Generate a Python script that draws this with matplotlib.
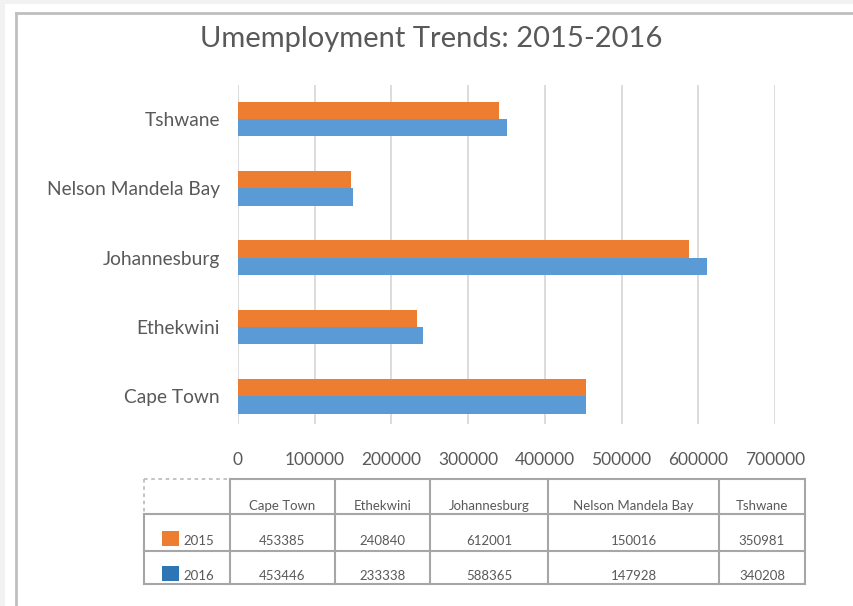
import matplotlib
matplotlib.use('Agg')

import matplotlib.pyplot as plt
from matplotlib.patches import Rectangle
from matplotlib.lines import Line2D

cities = ['Cape Town', 'Ethekwini', 'Johannesburg', 'Nelson Mandela Bay', 'Tshwane']
years = ['2015', '2016']
vals_2015 = [453385, 240840, 612001, 150016, 350981]
vals_2016 = [453446, 233338, 588365, 147928, 340208]
x_ticks = [0, 100000, 200000, 300000, 400000, 500000, 600000, 700000]

ORANGE = '#ED7D31'
BLUE = '#5B9BD5'
KEY_BLUE = '#2E75B6'
TEXT = '#595959'
W, H = 854, 606

plt.rcParams['font.family'] = ['Lato', 'DejaVu Sans']

fig = plt.figure(figsize=(W / 100, H / 100), dpi=100, facecolor='white')


def fx(px):
    return px / W


def fy(py):
    return 1 - py / H


# outer background strips and chart frame
fig.patches.append(Rectangle((0, fy(4)), 1, 4 / H, transform=fig.transFigure,
                             facecolor='#f2f2f2', edgecolor='none'))
fig.patches.append(Rectangle((0, 0), fx(5), 1, transform=fig.transFigure,
                             facecolor='#f2f2f2', edgecolor='none'))
fig.lines.append(Line2D([fx(16), 1], [fy(13), fy(13)], transform=fig.transFigure,
                        color='#bfbfbf', linewidth=2))
fig.lines.append(Line2D([fx(16), fx(16)], [fy(13), 0], transform=fig.transFigure,
                        color='#bfbfbf', linewidth=2))

fig.text(fx(431), fy(39), 'Umemployment Trends: 2015-2016', ha='center', va='center',
         fontsize=21, color=TEXT)

ax = fig.add_axes([fx(238), fy(424), fx(775) - fx(238), (424 - 85) / H])
y = list(range(len(cities)))
h = 0.25
ax.barh([v + h / 2 for v in y], vals_2016, height=h, color=ORANGE, zorder=3)
ax.barh([v - h / 2 for v in y], vals_2015, height=h, color=BLUE, zorder=3)

ax.set_xlim(0, 700000)
ax.set_ylim(-0.4, 4.49)
ax.set_xticks(x_ticks)
ax.set_xticklabels([str(t) for t in x_ticks])
ax.set_yticks(y)
ax.set_yticklabels(cities)
ax.tick_params(axis='both', length=0, labelcolor=TEXT)
ax.tick_params(axis='x', pad=20, labelsize=12.5)
ax.tick_params(axis='y', pad=13, labelsize=13.8)
ax.grid(axis='x', color='#d9d9d9', linewidth=1.3, zorder=0)
for s in ax.spines.values():
    s.set_visible(False)

# data table below the chart
col_edges = [144, 230, 335, 430, 548, 719, 805]
row_edges = [479, 514, 551, 584]
line_kw = dict(transform=fig.transFigure, color='#a6a6a6', linewidth=1.5)

for r in row_edges[1:]:
    fig.lines.append(Line2D([fx(144), fx(805)], [fy(r), fy(r)], **line_kw))
fig.lines.append(Line2D([fx(230), fx(805)], [fy(479), fy(479)], **line_kw))
for c in col_edges[1:]:
    fig.lines.append(Line2D([fx(c), fx(c)], [fy(479), fy(584)], **line_kw))
fig.lines.append(Line2D([fx(144), fx(144)], [fy(514), fy(584)], **line_kw))
dash_kw = dict(transform=fig.transFigure, color='#bfbfbf', linewidth=1.3, linestyle=(0, (2, 2)))
fig.lines.append(Line2D([fx(144), fx(230)], [fy(479), fy(479)], **dash_kw))
fig.lines.append(Line2D([fx(144), fx(144)], [fy(479), fy(514)], **dash_kw))

tkw = dict(ha='center', va='center', fontsize=9.5, color=TEXT)
for i, name in enumerate(cities):
    cx = (col_edges[i + 1] + col_edges[i + 2]) / 2
    fig.text(fx(cx), fy(506), name, **tkw)
    fig.text(fx(cx), fy(541), str(vals_2015[i]), **tkw)
    fig.text(fx(cx), fy(576), str(vals_2016[i]), **tkw)

for yr, key_col, ky in [(years[0], ORANGE, 538), (years[1], KEY_BLUE, 573)]:
    fig.patches.append(Rectangle((fx(162), fy(ky + 8)), 17 / W, 15 / H,
                                 transform=fig.transFigure, facecolor=key_col,
                                 edgecolor='none'))
    fig.text(fx(183), fy(ky + 3), yr, ha='left', va='center', fontsize=9.5, color=TEXT)

fig.savefig('out.png', dpi=100, facecolor='white')
